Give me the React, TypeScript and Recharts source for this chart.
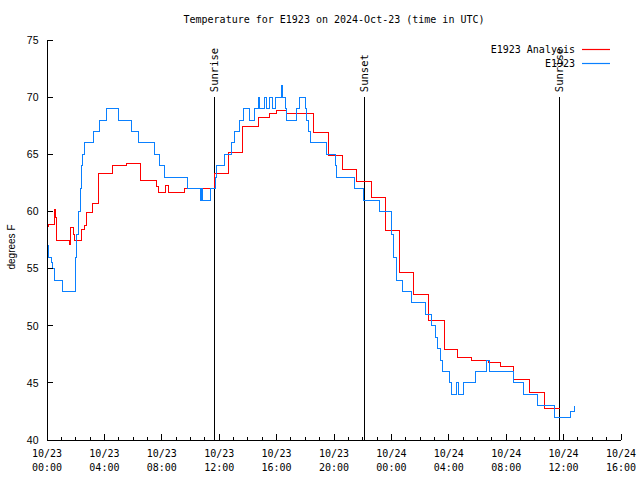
import React from "react";
import { LineChart, Line, XAxis, YAxis, ReferenceLine, Legend } from "recharts";

// hours since 10/23 00:00 UTC
const obsHours = [
  0, 0.09, 0.33, 0.4, 0.49, 1.09, 2.02, 2.07, 2.18, 2.3, 2.42, 2.49, 2.6, 3.23, 3.64, 4.16,
  4.97, 5.9, 6.41, 7.48, 7.87, 8.22, 9.8, 10.71, 10.78, 10.85, 11.41, 11.71, 11.83, 12.4,
  12.87, 13.1, 13.38, 13.68, 14.1, 14.49, 14.72, 14.84, 15.19, 15.31, 15.54, 15.73, 15.89,
  16.36, 16.43, 16.59, 16.7, 17.4, 17.58, 17.98, 18.1, 18.21, 18.33, 19.49, 20.07, 20.19,
  21.41, 22.04, 23.16, 24.02, 24.13, 24.37, 24.79, 25.41, 26.41, 26.81, 27.04, 27.2, 27.39,
  27.57, 28.08, 28.2, 28.55, 28.66, 29.01, 29.83, 30.64, 30.87, 32.49, 33.24, 34.2, 35.35,
  36.45, 36.79,
];
const obsTemps = [
  57, 56, 55.5, 55, 54, 53, 56, 58, 60, 62, 64, 65, 66, 67, 68, 69,
  68, 67, 66, 65, 64, 63, 62, 61, 62, 61, 62, 63, 64, 65,
  66, 67, 68, 69, 68, 69, 70, 69, 70, 69, 70, 69, 70,
  71, 70, 69, 68, 69, 70, 69, 68, 67, 66, 65, 64, 63,
  62, 61, 60, 58, 56, 54, 53, 52, 51, 50, 49, 48, 47,
  46, 45, 44, 45, 44, 45, 46, 47, 46, 45, 44, 43, 42,
  42.5, 43,
];

const anaHours = [
  0, 0.09, 0.49, 0.56, 0.68, 1.6, 1.67, 1.83, 1.9, 2.42, 2.58, 2.72, 3.16, 3.62, 4.58, 5.55,
  6.5, 7.6, 7.76, 8.29, 8.5, 9.57, 11.64, 12.63, 13.6, 14.72, 15.54, 15.96, 16.7, 18.56,
  19.6, 20.61, 21.58, 22.63, 23.6, 24.55, 25.57, 26.6, 27.67, 28.59, 29.6, 30.75, 31.62,
  32.54, 33.61, 34.7, 35.75,
];
const anaTemps = [
  58.7, 58.9, 60.2, 59.5, 57.5, 57.1, 58.6, 58, 57.5, 58.4, 58.8, 59.9, 60.7, 63.3, 64, 64.2,
  62.7, 62.2, 61.7, 62.3, 61.7, 62, 63.3, 65.2, 67.4, 68.2, 68.6, 68.8, 68.6, 66.9,
  64.9, 63.7, 62.6, 61.2, 58.3, 54.7, 52.7, 50.5, 47.9, 47.2, 47, 46.8, 46.4,
  45.3, 44.2, 42.8, 42.8,
];

const seriesNames = ["E1923 Analysis", "E1923"];
const seriesColors = ["#ff0000", "#0a80ff"];

const xTickDays = ["10/23", "10/23", "10/23", "10/23", "10/23", "10/23", "10/24", "10/24", "10/24", "10/24", "10/24"];
const xTickTimes = ["00:00", "04:00", "08:00", "12:00", "16:00", "20:00", "00:00", "04:00", "08:00", "12:00", "16:00"];
const hourTicks = Array.from({ length: 41 }, (_, i) => i);
const tempTicks = [40, 45, 50, 55, 60, 65, 70, 75];

const sunNames = ["Sunrise", "Sunset", "Sunrise"];
const sunHours = [11.64, 22.16, 35.7];

const obsData = obsHours.map((t, i) => ({ t, v: obsTemps[i] }));
const anaData = anaHours.map((t, i) => ({ t, v: anaTemps[i] }));

const MONO = "'DejaVu Sans Mono', monospace";
const SANS = "'Liberation Sans', Arial, sans-serif";

function BottomTick({ x, y, payload }: any) {
  const v = payload.value;
  const major = v % 4 === 0;
  return (
    <g>
      <line x1={x} x2={x} y1={y} y2={y - (major ? 6 : 3)} stroke="#000" />
      {major && (
        <text x={x} y={y + 17} textAnchor="middle" fontFamily={MONO} fontSize={10} fill="#000">
          <tspan x={x}>{xTickDays[v / 4]}</tspan>
          <tspan x={x} dy={13.5}>{xTickTimes[v / 4]}</tspan>
        </text>
      )}
    </g>
  );
}

function TopTick({ x, y, payload }: any) {
  const major = payload.value % 4 === 0;
  return <line x1={x} x2={x} y1={y} y2={y + (major ? 6 : 3)} stroke="#000" />;
}

function LeftTick({ x, y, payload }: any) {
  return (
    <g>
      <line x1={x} x2={x + 6} y1={y} y2={y} stroke="#000" />
      <text x={x - 8.5} y={y + 3.8} textAnchor="end" fontFamily={SANS} fontSize={10.5} fill="#000">
        {payload.value}
      </text>
    </g>
  );
}

function RightTick({ x, y }: any) {
  return <line x1={x} x2={x - 6} y1={y} y2={y} stroke="#000" />;
}

function AxisTitle({ viewBox }: any) {
  const cy = viewBox.y + viewBox.height / 2 + 7;
  return (
    <text x={14.5} y={cy} transform={`rotate(-90, 14.5, ${cy})`} textAnchor="middle" fontFamily={SANS} fontSize={10} fill="#000">
      degrees F
    </text>
  );
}

function SunLabel({ viewBox, text }: any) {
  const x = viewBox.x + 3.5;
  const y = viewBox.y - 5;
  return (
    <text x={x} y={y} transform={`rotate(-90, ${x}, ${y})`} textAnchor="start" fontFamily={MONO} fontSize={10.5} fill="#000">
      {text}
    </text>
  );
}

function LegendBox() {
  return (
    <div style={{ fontFamily: MONO, fontSize: 10, color: "#000" }}>
      {seriesNames.map((name, i) => (
        <div key={name} style={{ display: "flex", justifyContent: "flex-end", alignItems: "center", height: 14 }}>
          <span>{name}</span>
          <svg width={35} height={3} style={{ display: "block" }}>
            <line x1={7} x2={35} y1={1.5} y2={1.5} stroke={seriesColors[i]} strokeWidth={1.2} />
          </svg>
        </div>
      ))}
    </div>
  );
}

export default function App() {
  return (
    <div style={{ position: "relative", width: 640, height: 480, background: "#fff" }}>
      <style>{"body{margin:0} .recharts-surface path, .recharts-surface line{shape-rendering:crispEdges}"}</style>
      <div
        style={{
          position: "absolute",
          top: 14,
          left: 47,
          width: 574,
          textAlign: "center",
          fontFamily: MONO,
          fontSize: 10,
          color: "#000",
        }}
      >
        Temperature for E1923 on 2024-Oct-23 (time in UTC)
      </div>
      <LineChart width={640} height={480} margin={{ top: 40, right: 19, bottom: 0, left: 0 }}>
        <XAxis
          xAxisId="b"
          type="number"
          dataKey="t"
          domain={[0, 40]}
          ticks={hourTicks}
          interval={0}
          allowDataOverflow
          height={40}
          tickSize={0}
          tickMargin={0}
          tickLine={false}
          axisLine={{ stroke: "#000" }}
          tick={<BottomTick />}
        />
        <XAxis
          xAxisId="t"
          orientation="top"
          type="number"
          domain={[0, 40]}
          ticks={hourTicks}
          interval={0}
          allowDataOverflow
          height={0}
          tickSize={0}
          tickMargin={0}
          tickLine={false}
          axisLine={{ stroke: "#000" }}
          tick={<TopTick />}
        />
        <YAxis
          yAxisId="l"
          type="number"
          domain={[40, 75]}
          ticks={tempTicks}
          interval={0}
          allowDataOverflow
          width={47}
          tickSize={0}
          tickMargin={0}
          tickLine={false}
          axisLine={{ stroke: "#000" }}
          tick={<LeftTick />}
          label={<AxisTitle />}
        />
        <YAxis
          yAxisId="r"
          orientation="right"
          type="number"
          domain={[40, 75]}
          ticks={tempTicks}
          interval={0}
          allowDataOverflow
          width={0}
          tickSize={0}
          tickMargin={0}
          tickLine={false}
          axisLine={{ stroke: "#000" }}
          tick={<RightTick />}
        />
        {sunHours.map((t, i) => (
          <ReferenceLine
            key={i}
            xAxisId="b"
            yAxisId="l"
            segment={[{ x: t, y: 40 }, { x: t, y: 70 }]}
            stroke="#000"
            strokeWidth={1}
            label={<SunLabel text={sunNames[i]} />}
          />
        ))}
        <Line
          xAxisId="b"
          yAxisId="l"
          data={anaData}
          dataKey="v"
          name={seriesNames[0]}
          type="stepAfter"
          stroke={seriesColors[0]}
          strokeWidth={1}
          dot={false}
          isAnimationActive={false}
        />
        <Line
          xAxisId="b"
          yAxisId="l"
          data={obsData}
          dataKey="v"
          name={seriesNames[1]}
          type="stepAfter"
          stroke={seriesColors[1]}
          strokeWidth={1}
          dot={false}
          isAnimationActive={false}
        />
        <Legend
          layout="horizontal"
          verticalAlign="middle"
          align="center"
          content={<LegendBox />}
          wrapperStyle={{ top: 42, left: 400, width: 210, height: 28 }}
        />
      </LineChart>
    </div>
  );
}
